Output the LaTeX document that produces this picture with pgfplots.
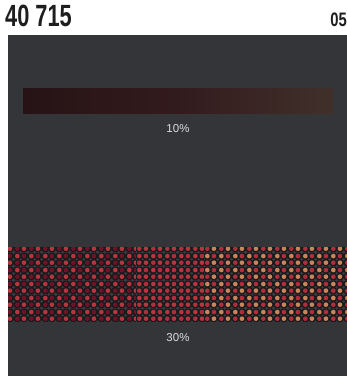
\documentclass[border=0pt]{standalone}
\usepackage{pgfplots}
\pgfplotsset{compat=1.18}
\usepackage{fontspec}
\setmainfont{Liberation Sans}
\usetikzlibrary{patterns}
\definecolor{panel}{HTML}{333538}
\definecolor{htbg}{HTML}{1A1A1D}
\definecolor{htgray}{HTML}{383A3E}
\definecolor{redA}{HTML}{701226}
\definecolor{redB}{HTML}{B8343F}
\definecolor{redM}{HTML}{B02E3C}
\definecolor{orng}{HTML}{C9845A}
\definecolor{tenL}{HTML}{261315}
\definecolor{tenM}{HTML}{331B1D}
\definecolor{tenR}{HTML}{40302A}
\definecolor{lbl}{HTML}{DCDCDC}
\definecolor{ttl}{HTML}{1E1E1E}

% halftone cell: two colours A,B on a checker, grey dots between
\newcommand{\htcell}[2]{%
  \pgfsetfillcolor{htbg}\pgfpathrectangle{\pgfpointorigin}{\pgfpoint{13.6bp}{13.6bp}}\pgfusepath{fill}%
  \pgfsetfillcolor{htgray}%
  \foreach \gx/\gy in {0/0,6.8/0,13.6/0,0/6.8,6.8/6.8,13.6/6.8,0/13.6,6.8/13.6,13.6/13.6}{%
    \pgfpathcircle{\pgfpoint{\gx bp}{\gy bp}}{1.3bp}}%
  \pgfusepath{fill}%
  \pgfsetfillcolor{#1}%
  \pgfpathcircle{\pgfpoint{3.4bp}{3.4bp}}{2.4bp}%
  \pgfpathcircle{\pgfpoint{10.2bp}{10.2bp}}{2.4bp}\pgfusepath{fill}%
  \pgfsetfillcolor{#2}%
  \pgfpathcircle{\pgfpoint{10.2bp}{3.4bp}}{2.4bp}%
  \pgfpathcircle{\pgfpoint{3.4bp}{10.2bp}}{2.4bp}\pgfusepath{fill}%
}
\pgfdeclarepatterninherentlycolored{htleft}{\pgfpointorigin}{\pgfpoint{13.6bp}{13.6bp}}{\pgfpoint{13.6bp}{13.6bp}}{\htcell{redA}{redB}}
\pgfdeclarepatterninherentlycolored{htmid}{\pgfpointorigin}{\pgfpoint{13.6bp}{13.6bp}}{\pgfpoint{13.6bp}{13.6bp}}{\htcell{redM}{redB}}
\pgfdeclarepatterninherentlycolored{htright}{\pgfpointorigin}{\pgfpoint{13.6bp}{13.6bp}}{\pgfpoint{13.6bp}{13.6bp}}{\htcell{redM}{orng}}

\begin{document}
\begin{tikzpicture}
\begin{axis}[
  scale only axis, width=347bp, height=376bp,
  xmin=0, xmax=347, ymin=0, ymax=376, y dir=reverse,
  hide axis, clip=false]
% page background and panel
\addplot[fill=white, draw=none] coordinates {(0,0) (347,0) (347,376) (0,376)} -- cycle;
\addplot[fill=panel, draw=none] coordinates {(8,35) (347,35) (347,376) (8,376)} -- cycle;
% 10% swatch
\addplot[draw=none, left color=tenL, right color=tenR, middle color=tenM] coordinates {(23,88) (333,88) (333,113) (23,113)} -- cycle;
% 30% swatch
\addplot[draw=none, pattern=htleft]  coordinates {(8,247) (136,247) (136,321) (8,321)} -- cycle;
\addplot[draw=none, pattern=htmid]   coordinates {(136,247) (204,247) (204,321) (136,321)} -- cycle;
\addplot[draw=none, pattern=htright] coordinates {(204,247) (347,247) (347,321) (204,321)} -- cycle;
% texts
\node[anchor=base west, text=ttl, inner sep=0pt] at (axis cs:5,27)
  {\scalebox{0.71}[1]{\fontsize{30.7bp}{31bp}\selectfont\bfseries 40 715}};
\node[anchor=base east, text=ttl, inner sep=0pt] at (axis cs:347,27)
  {\scalebox{0.76}[1]{\fontsize{19.5bp}{20bp}\selectfont\bfseries 05}};
\node[anchor=base, text=lbl, inner sep=0pt] at (axis cs:178,132)
  {\fontsize{11.5bp}{13bp}\selectfont 10\%};
\node[anchor=base, text=lbl, inner sep=0pt] at (axis cs:178,341)
  {\fontsize{11.5bp}{13bp}\selectfont 30\%};
\end{axis}
\end{tikzpicture}
\end{document}
